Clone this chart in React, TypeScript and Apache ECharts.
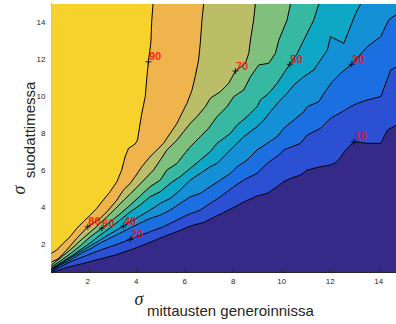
import React, { useEffect, useRef } from "react";
import * as echarts from "echarts";

const X_MIN = 0.5;
const X_MAX = 15;
const Y_MIN = 0.5;
const Y_MAX = 15;

const levels = [10, 20, 30, 40, 50, 60, 70, 80, 90];
const baseColor = "#352a87";
const bandColors = ["#2b50d3", "#1c6fe0", "#1490d6", "#0ea8c6", "#37b8a2", "#7fc07c", "#bcbd67", "#efb54c", "#f8d22c"];
const xTicks = [2, 4, 6, 8, 10, 12, 14];
const yTicks = [2, 4, 6, 8, 10, 12, 14];

// contour lines, each from its top/right end to its left end (data units)
const contour10 = [[15.0,8.69],[14.74,8.47],[14.36,8.2],[14.08,7.48],[13.53,7.48],[12.98,7.57],[12.67,7.17],[12.29,6.49],[12.01,6.31],[11.46,6.18],[11.05,6.04],[10.77,5.77],[10.36,5.59],[10.08,5.41],[9.81,5.14],[9.4,4.78],[8.98,4.64],[8.43,4.31],[8.02,4.02],[7.6,3.75],[7.19,3.48],[6.78,3.21],[6.23,3.02],[5.68,2.71],[5.12,2.44],[4.71,2.21],[3.87,1.78],[3.13,1.45],[2.51,1.24],[1.89,1.02],[1.13,0.78],[0.5,0.5]];
const contour20 = [[15.0,11.82],[14.74,11.62],[14.49,11.44],[14.29,10.72],[14.08,10.0],[13.53,9.82],[13.12,9.64],[12.84,9.46],[12.5,9.19],[12.01,8.83],[11.6,8.29],[11.05,7.93],[10.77,7.48],[10.08,7.12],[9.88,6.85],[9.4,6.4],[8.98,5.86],[8.43,5.5],[8.02,5.14],[7.47,4.6],[7.05,4.24],[6.64,3.88],[6.09,3.61],[5.54,3.25],[5.12,2.98],[4.57,2.71],[4.16,2.51],[3.75,2.3],[3.13,1.99],[2.51,1.72],[1.89,1.4],[1.27,1.08],[0.86,0.81],[0.5,0.56]];
const contour30 = [[15.0,14.73],[14.7,14.41],[14.41,14.14],[14.08,13.24],[13.53,12.7],[12.88,11.75],[12.43,11.26],[12.08,10.81],[11.74,10.18],[11.53,9.73],[11.05,9.46],[10.91,9.19],[10.5,8.74],[10.08,8.29],[9.81,7.84],[9.4,7.48],[8.98,7.12],[8.57,6.58],[8.16,6.22],[7.88,5.86],[7.47,5.5],[7.05,5.14],[6.64,4.78],[6.23,4.6],[5.81,4.24],[5.4,3.88],[4.99,3.61],[4.57,3.43],[4.16,3.18],[3.75,2.91],[3.33,2.64],[2.92,2.37],[2.51,2.1],[2.1,1.78],[1.68,1.51],[1.27,1.18],[0.86,0.91],[0.5,0.62]];
const contour40 = [[13.25,15],[13.05,14.5],[12.56,12.88],[12.01,13.24],[11.88,12.52],[11.6,11.98],[11.32,11.44],[10.91,11.08],[10.5,10.63],[10.22,10.18],[9.88,9.73],[9.53,9.19],[9.26,8.74],[8.98,8.38],[8.43,7.84],[8.02,7.3],[7.6,6.76],[7.33,6.4],[7.05,6.22],[6.64,5.86],[6.23,5.5],[5.81,4.96],[5.4,4.51],[4.99,4.24],[4.57,3.88],[4.16,3.56],[3.47,3.02],[2.92,2.59],[2.51,2.26],[2.1,1.94],[1.68,1.62],[1.27,1.29],[0.86,0.97],[0.5,0.67]];
const contour50 = [[11.53,15],[11.32,14.14],[10.91,13.06],[10.64,12.34],[10.33,11.75],[10.08,11.26],[9.81,10.72],[9.46,10.18],[9.12,9.82],[8.98,9.46],[8.57,8.92],[8.16,8.47],[7.88,8.02],[7.33,7.48],[7.05,7.03],[6.64,6.58],[6.23,6.13],[5.81,5.68],[5.4,5.32],[4.99,4.87],[4.57,4.6],[4.16,4.15],[3.75,3.78],[3.33,3.34],[2.92,2.91],[2.51,2.53],[2.1,2.1],[1.68,1.72],[1.27,1.35],[0.86,1.02],[0.5,0.73]];
const contour60 = [[10.36,15],[10.22,14.14],[9.88,13.06],[9.74,12.34],[9.46,11.8],[9.05,11.71],[8.71,11.08],[8.43,10.36],[8.02,10.0],[7.74,9.46],[7.33,8.92],[6.98,8.29],[6.64,7.84],[6.23,7.3],[5.95,6.85],[5.68,6.4],[5.26,6.04],[4.99,5.5],[4.57,5.14],[4.16,4.64],[3.75,4.15],[3.33,3.67],[2.92,3.24],[2.58,2.9],[2.1,2.43],[1.68,1.94],[1.27,1.51],[0.86,1.13],[0.5,0.81]];
const contour70 = [[8.91,15],[8.84,14.14],[8.71,13.06],[8.64,12.34],[8.5,11.8],[8.09,11.38],[7.81,10.72],[7.47,10.27],[7.05,9.91],[6.85,9.46],[6.5,8.92],[6.23,8.56],[5.95,8.11],[5.68,7.66],[5.26,7.12],[4.99,6.58],[4.71,6.04],[4.16,5.29],[3.75,4.75],[3.33,4.21],[2.92,3.67],[2.3,2.91],[1.81,2.37],[1.27,1.72],[0.86,1.29],[0.5,0.91]];
const contour80 = [[6.78,15],[6.71,14.14],[6.64,12.88],[6.57,11.98],[6.43,11.08],[6.3,10.36],[6.09,9.64],[5.88,9.1],[5.68,8.56],[5.4,8.02],[5.12,7.48],[4.85,7.12],[4.57,6.76],[4.23,6.22],[3.95,5.68],[3.75,5.32],[3.47,4.96],[3.2,4.42],[2.79,3.79],[2.51,3.43],[2.0,2.98],[1.55,2.36],[1.13,1.72],[0.77,1.24],[0.5,1.08]];
const contour90 = [[4.69,15],[4.64,14.14],[4.6,12.9],[4.5,11.89],[4.44,11.08],[4.37,10.0],[4.23,9.12],[4.05,7.66],[3.95,7.44],[3.68,7.21],[3.54,6.76],[3.4,6.04],[3.2,5.41],[2.92,4.87],[2.64,4.42],[2.37,3.97],[2.1,3.61],[1.82,3.25],[1.55,2.9],[1.27,2.44],[0.99,2.09],[0.72,1.72],[0.5,1.55]];

const contourLines = [contour10, contour20, contour30, contour40, contour50, contour60, contour70, contour80, contour90];

// label anchor points (on the contour lines)
const labelX = [12.98, 3.75, 12.88, 3.47, 10.33, 2.58, 8.09, 2.0, 4.5];
const labelY = [7.57, 2.3, 11.75, 3.02, 11.75, 2.9, 11.38, 2.98, 11.89];

const axisColor = "#262626";

export default function App() {
  const ref = useRef<HTMLDivElement>(null);

  useEffect(() => {
    if (!ref.current) return;
    const chart = echarts.init(ref.current, undefined, { renderer: "svg" });

    const xAxisCommon = {
      type: "value" as const,
      min: X_MIN,
      max: X_MAX,
      splitLine: { show: false },
      axisLine: { show: true, onZero: false, lineStyle: { color: axisColor, width: 1 } },
      axisTick: { show: true, inside: true, length: 4, customValues: xTicks, lineStyle: { color: axisColor, width: 1 } },
    };
    const yAxisCommon = {
      type: "value" as const,
      min: Y_MIN,
      max: Y_MAX,
      splitLine: { show: false },
      axisLine: { show: true, onZero: false, lineStyle: { color: axisColor, width: 1 } },
      axisTick: { show: true, inside: true, length: 4, customValues: yTicks, lineStyle: { color: axisColor, width: 1 } },
    };

    const option: any = {
      animation: false,
      grid: {
        left: 51.4,
        top: 4,
        width: 351.6,
        height: 268.7,
        show: true,
        backgroundColor: baseColor,
        borderWidth: 0,
      },
      xAxis: [
        {
          ...xAxisCommon,
          position: "bottom",
          axisLabel: {
            customValues: xTicks,
            fontSize: 8,
            color: axisColor,
            margin: 5,
            fontFamily: "Liberation Sans",
          },
        },
        { ...xAxisCommon, position: "top", axisLabel: { show: false } },
      ],
      yAxis: [
        {
          ...yAxisCommon,
          position: "left",
          axisLabel: {
            customValues: yTicks,
            fontSize: 8,
            color: axisColor,
            margin: 6,
            fontFamily: "Liberation Sans",
          },
        },
        { ...yAxisCommon, position: "right", axisLabel: { show: false } },
      ],
      series: [
        {
          type: "custom",
          name: "fills",
          clip: true,
          silent: true,
          z: 1,
          data: levels.map((lv, i) => [contourLines[i][0][0], contourLines[i][0][1], lv]),
          renderItem: (params: any, api: any) => {
            const i = params.dataIndex;
            const pts = contourLines[i];
            const poly = pts.slice();
            poly.push([X_MIN, Y_MAX]);
            if (pts[0][1] < Y_MAX) poly.push([X_MAX, Y_MAX]);
            return {
              type: "polygon",
              shape: { points: poly.map((p) => api.coord(p)) },
              style: { fill: bandColors[i], stroke: bandColors[i], lineWidth: 0.3 },
              silent: true,
            };
          },
        },
        {
          type: "custom",
          name: "lines",
          clip: true,
          silent: true,
          z: 2,
          data: levels.map((lv, i) => [contourLines[i][0][0], contourLines[i][0][1], lv]),
          renderItem: (params: any, api: any) => {
            const i = params.dataIndex;
            return {
              type: "polyline",
              shape: { points: contourLines[i].map((p) => api.coord(p)) },
              style: { stroke: "#000000", lineWidth: 1, fill: null },
              silent: true,
            };
          },
        },
        {
          type: "scatter",
          name: "labels",
          z: 3,
          silent: true,
          symbol: "path://M2.5,0H3.5V2.5H6V3.5H3.5V6H2.5V3.5H0V2.5H2.5Z",
          symbolSize: 6,
          itemStyle: { color: "#000000" },
          data: levels.map((lv, i) => [labelX[i], labelY[i], lv]),
          label: {
            show: true,
            position: [3.5, -8],
            formatter: (p: any) => String(p.value[2]),
            color: "#ff0000",
            fontSize: 11,
            fontWeight: "bold",
            fontFamily: "Liberation Sans",
          },
        },
      ],
      graphic: [
        {
          type: "text",
          x: 139,
          y: 299,
          style: {
            text: "σ",
            font: 'italic 18px "Liberation Serif"',
            fill: axisColor,
            align: "center",
            verticalAlign: "middle",
          },
        },
        {
          type: "text",
          x: 147,
          y: 310,
          style: {
            text: "mittausten generoinnissa",
            font: '15px "Liberation Sans"',
            fill: axisColor,
            align: "left",
            verticalAlign: "middle",
          },
        },
        {
          type: "text",
          x: 19,
          y: 190,
          rotation: Math.PI / 2,
          style: {
            text: "σ",
            font: 'italic 18px "Liberation Serif"',
            fill: axisColor,
            align: "center",
            verticalAlign: "middle",
          },
        },
        {
          type: "text",
          x: 29,
          y: 130,
          rotation: Math.PI / 2,
          style: {
            text: "suodattimessa",
            font: '15px "Liberation Sans"',
            fill: axisColor,
            align: "center",
            verticalAlign: "middle",
          },
        },
      ],
    };

    chart.setOption(option);
    return () => chart.dispose();
  }, []);

  return (
    <div
      style={{
        position: "fixed",
        left: 0,
        top: 0,
        width: 396,
        height: 324,
        overflow: "hidden",
        background: "#ffffff",
      }}
    >
      <div ref={ref} style={{ width: 404, height: 324 }} />
    </div>
  );
}
